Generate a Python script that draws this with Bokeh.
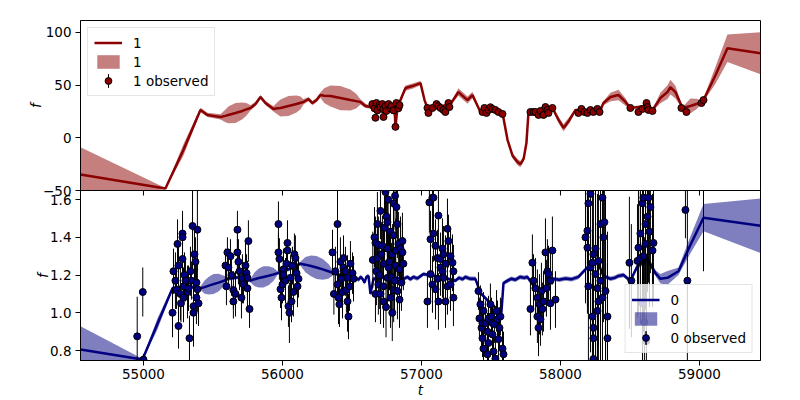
import numpy as np
from bokeh.plotting import figure
from bokeh.models import Range1d, FixedTicker, Legend, LegendItem, PrintfTickFormatter
from bokeh.layouts import column
from bokeh.embed import file_html
from bokeh.resources import INLINE

# ------------------------------------------------------------------ data
T_START, T_END = 54547, 59439
Y1_START, Y1_END = -50, 111.3
Y0_START, Y0_END = 0.747, 1.648
X_TICKS = [55000, 56000, 57000, 58000, 59000]
Y1_TICKS = [-50, 0, 50, 100]
Y0_TICKS = [0.8, 1.0, 1.2, 1.4, 1.6]

# band "1" model: (t, mean, sd)
model1 = [
    (54547, -34.9, 26), (55158, -48.1, 0.5), (55288, -11.3, 5.5), (55410, 26.4, 2),
    (55460, 21.7, 2), (55554, 19.8, 2.5), (55590, 20.8, 6), (55611, 21.7, 8),
    (55662, 23.6, 9.5), (55712, 25.5, 8), (55740, 27.0, 6), (55770, 28.3, 2.5),
    (55806, 32.1, 2), (55842, 38.7, 2), (55878, 33.0, 2), (55935, 27.4, 2.5),
    (55965, 28.0, 6), (55986, 28.3, 8), (56043, 30.2, 9.5), (56101, 32.1, 8),
    (56130, 33.2, 6), (56151, 34.0, 2.5), (56187, 36.8, 2), (56216, 33.0, 2),
    (56245, 35.8, 2), (56273, 40.6, 2.5), (56300, 40.0, 7), (56345, 39.6, 10),
    (56417, 37.7, 11.5), (56489, 35.8, 10), (56530, 34.8, 7), (56561, 34.0, 2.5),
    (56597, 30.2, 2), (56633, 29.2, 1.5), (56647, 28.3, 1), (56700, 30.0, 1),
    (56760, 29.0, 1), (56806, 28.3, 1), (56813, 10.4, 1), (56827, 28.3, 1),
    (56849, 35.8, 2), (56885, 47.2, 2.5), (56935, 49.1, 2.5), (56993, 51.9, 2),
    (57022, 35.8, 1.5), (57043, 28.3, 1), (57122, 29.2, 1), (57209, 32.1, 1),
    (57266, 43.4, 3.5), (57331, 35.8, 3.5), (57367, 40.6, 3), (57424, 24.5, 1),
    (57496, 26.4, 1), (57583, 23.6, 1), (57619, -1.9, 2), (57655, -17.0, 2.5),
    (57691, -23.0, 3), (57712, -25.0, 3), (57735, -20.0, 2.5), (57755, -5.0, 2),
    (57770, 24.5, 1), (57856, 25.5, 1), (57950, 26.4, 1), (57986, 17.0, 3),
    (58022, 9.4, 3.5), (58065, 17.0, 3), (58108, 26.4, 1), (58216, 26.4, 1),
    (58288, 26.4, 1), (58309, 33.0, 2), (58360, 38.7, 4), (58417, 40.6, 5),
    (58468, 34.0, 3.5), (58503, 28.3, 1), (58612, 30.2, 1), (58662, 26.4, 1),
    (58719, 37.7, 5), (58770, 43.4, 6.5), (58791, 48.1, 7), (58827, 43.4, 6),
    (58878, 28.3, 1), (58935, 30.2, 7), (58978, 32.1, 5), (59022, 34.0, 1),
    (59115, 59.4, 8), (59201, 84.9, 13), (59439, 80.2, 20),
]

# band "1" observations: (t, f, err)
obs1 = [
    (56647, 32, 1), (56662, 28, 1), (56669, 19, 1.5), (56676, 33, 1), (56683, 26, 1),
    (56698, 31, 1), (56705, 29, 1), (56719, 32, 1), (56727, 27, 1), (56727, 19.8, 1.5),
    (56741, 30, 1), (56748, 25.5, 1), (56763, 32, 1), (56777, 28, 1), (56784, 30, 1),
    (56799, 26, 1), (56813, 10.4, 2), (56820, 33, 1), (56834, 28, 1), (56842, 31, 1),
    (57043, 28.3, 1), (57050, 23.6, 1), (57079, 28.3, 1), (57108, 32, 1), (57122, 30, 1),
    (57137, 28.3, 1), (57158, 26.4, 1), (57172, 24.5, 1), (57194, 33, 1), (57201, 29.2, 1),
    (57439, 24.5, 1), (57453, 28.3, 1), (57468, 23.6, 1), (57482, 26.4, 1), (57496, 29, 1),
    (57511, 27.4, 1), (57532, 26.4, 1), (57554, 24.5, 1), (57583, 22.6, 1),
    (57784, 24.5, 1), (57806, 24.5, 1), (57820, 24.5, 1), (57842, 21.7, 1), (57856, 25.5, 1),
    (57878, 21.7, 1), (57892, 29.2, 1), (57906, 26.4, 1), (57914, 23.6, 1), (57942, 28.3, 1),
    (58129, 23.6, 1), (58151, 27.4, 1), (58173, 24.5, 1), (58194, 23.6, 1), (58216, 26.4, 1),
    (58237, 24.5, 1), (58266, 27.4, 1), (58281, 24.5, 1),
    (58503, 28.3, 1), (58561, 24.5, 1), (58590, 27.4, 1), (58619, 33, 1), (58626, 29.2, 1),
    (58633, 26.4, 1), (58662, 25.5, 1),
    (58870, 28.3, 1), (58906, 24.5, 1), (59014, 33, 1), (59029, 35.8, 1),
]

# band "0" model: (t, mean, sd)
model0 = [
    (54547, 0.805, 0.123), (54993, 0.752, 0.004), (55100, 0.94, 0.03), (55209, 1.13, 0.01),
    (55309, 1.14, 0.01), (55410, 1.13, 0.01), (55440, 1.136, 0.035), (55470, 1.144, 0.047),
    (55504, 1.152, 0.053), (55540, 1.16, 0.047), (55575, 1.168, 0.03), (55604, 1.18, 0.01),
    (55698, 1.19, 0.01), (55770, 1.17, 0.01), (55800, 1.178, 0.037), (55830, 1.184, 0.05),
    (55863, 1.19, 0.056), (55900, 1.196, 0.05), (55935, 1.203, 0.035), (55964, 1.21, 0.01),
    (56043, 1.23, 0.01), (56129, 1.26, 0.01), (56165, 1.255, 0.04), (56205, 1.248, 0.055),
    (56245, 1.24, 0.061), (56290, 1.23, 0.055), (56330, 1.22, 0.04), (56367, 1.21, 0.01),
    (56453, 1.19, 0.01), (56511, 1.17, 0.01), (56530, 1.185, 0.01), (56547, 1.175, 0.012),
    (56562, 1.19, 0.012), (56576, 1.18, 0.012), (56590, 1.16, 0.012), (56604, 1.19, 0.012),
    (56619, 1.195, 0.012), (56633, 1.10, 0.012), (56655, 1.18, 0.01), (56763, 1.19, 0.008),
    (56871, 1.18, 0.01), (56900, 1.19, 0.012), (56920, 1.178, 0.012), (56942, 1.19, 0.012),
    (56970, 1.182, 0.012), (57014, 1.205, 0.01), (57137, 1.19, 0.008), (57244, 1.17, 0.01),
    (57270, 1.185, 0.012), (57295, 1.178, 0.012), (57316, 1.19, 0.012), (57350, 1.18, 0.012),
    (57388, 1.18, 0.012), (57424, 1.105, 0.01), (57496, 1.05, 0.01), (57575, 1.00, 0.01),
    (57590, 1.157, 0.01), (57619, 1.17, 0.012), (57645, 1.18, 0.012), (57676, 1.175, 0.012),
    (57710, 1.19, 0.012), (57740, 1.185, 0.012), (57762, 1.19, 0.012), (57798, 1.152, 0.01),
    (57856, 1.115, 0.01), (57906, 1.14, 0.01), (57950, 1.18, 0.01), (57990, 1.175, 0.012),
    (58036, 1.182, 0.012), (58080, 1.178, 0.012), (58129, 1.19, 0.012), (58180, 1.23, 0.01),
    (58230, 1.264, 0.01), (58273, 1.26, 0.01), (58309, 1.195, 0.01), (58360, 1.18, 0.012),
    (58390, 1.185, 0.012), (58417, 1.195, 0.012), (58453, 1.20, 0.012), (58503, 1.17, 0.01),
    (58554, 1.248, 0.015), (58626, 1.285, 0.02), (58683, 1.21, 0.015), (58719, 1.18, 0.025),
    (58770, 1.185, 0.037), (58849, 1.22, 0.02), (58935, 1.36, 0.045), (59029, 1.504, 0.072),
    (59439, 1.461, 0.144),
]

# band "0" observations: (t, f, err)
obs0 = [
    (54955, 0.875, 0.21), (54995, 1.11, 0.13), (55000, 0.752, 0.03),
    (55209, 1.00, 0.13), (55216, 1.22, 0.12), (55230, 1.17, 0.15), (55238, 1.12, 0.10),
    (55245, 1.365, 0.13), (55252, 1.25, 0.11), (55252, 0.93, 0.12), (55266, 1.10, 0.14),
    (55270, 1.05, 0.10), (55281, 1.42, 0.12), (55281, 1.40, 0.10), (55281, 1.285, 0.11),
    (55288, 1.08, 0.13), (55288, 1.14, 0.10), (55295, 1.20, 0.12), (55302, 1.17, 0.11),
    (55317, 1.11, 0.14), (55324, 1.13, 0.12), (55331, 0.865, 0.12), (55338, 1.22, 0.13),
    (55345, 1.17, 0.10), (55353, 1.46, 0.25), (55360, 1.035, 0.15), (55360, 1.00, 0.18),
    (55367, 1.31, 0.15), (55374, 1.27, 0.13), (55381, 1.16, 0.11), (55381, 1.08, 0.14),
    (55388, 1.44, 0.22), (55388, 1.125, 0.12), (55396, 1.05, 0.12),
    (55590, 1.25, 0.09), (55597, 1.14, 0.10), (55604, 1.32, 0.08), (55611, 1.24, 0.10),
    (55626, 1.30, 0.09), (55633, 1.20, 0.11), (55647, 1.12, 0.10), (55647, 1.06, 0.09),
    (55662, 1.10, 0.12), (55676, 1.44, 0.10), (55676, 1.32, 0.09), (55683, 1.27, 0.12),
    (55691, 1.22, 0.10), (55705, 1.08, 0.11), (55712, 1.18, 0.13), (55720, 1.15, 0.10),
    (55734, 1.25, 0.12), (55741, 1.21, 0.10), (55748, 1.185, 0.09), (55748, 1.13, 0.12),
    (55755, 1.38, 0.11), (55763, 1.02, 0.10),
    (55971, 1.47, 0.12), (55971, 1.32, 0.10), (55978, 1.285, 0.11), (55986, 1.125, 0.10),
    (55993, 1.08, 0.12), (56000, 1.15, 0.10), (56007, 1.23, 0.11), (56007, 1.20, 0.09),
    (56022, 1.17, 0.12), (56029, 1.26, 0.10), (56036, 1.37, 0.12), (56036, 1.33, 0.10),
    (56043, 1.035, 0.11), (56050, 1.00, 0.16), (56058, 1.185, 0.12), (56065, 1.06, 0.11),
    (56072, 1.25, 0.10), (56079, 1.11, 0.13), (56086, 1.31, 0.11), (56093, 1.29, 0.12),
    (56101, 1.21, 0.10), (56108, 1.14, 0.11), (56115, 1.18, 0.10),
    (56360, 1.32, 0.12), (56370, 1.10, 0.11), (56381, 1.22, 0.13), (56396, 1.47, 0.20),
    (56396, 1.15, 0.12), (56403, 1.08, 0.14), (56410, 1.045, 0.12), (56417, 1.27, 0.13),
    (56424, 1.18, 0.12), (56432, 1.11, 0.14), (56439, 1.29, 0.12), (56439, 1.24, 0.11),
    (56453, 1.22, 0.13), (56460, 1.12, 0.12), (56468, 1.06, 0.16), (56468, 1.185, 0.12),
    (56475, 0.98, 0.12), (56482, 1.14, 0.13), (56489, 1.26, 0.12), (56504, 1.21, 0.11),
    (56511, 1.18, 0.12),
    (56650, 1.28, 0.15), (56662, 1.40, 0.16), (56669, 1.37, 0.14), (56669, 1.10, 0.15),
    (56676, 1.22, 0.18), (56683, 1.29, 0.15), (56683, 1.47, 0.17), (56690, 1.15, 0.16),
    (56690, 1.36, 0.15), (56697, 1.20, 0.18), (56705, 1.10, 0.16), (56705, 1.54, 0.15),
    (56712, 1.31, 0.17), (56719, 1.355, 0.16), (56727, 1.06, 0.14), (56727, 1.26, 0.18),
    (56727, 1.14, 0.15), (56734, 1.45, 0.17), (56741, 1.64, 0.18), (56745, 1.03, 0.16),
    (56748, 1.51, 0.17), (56755, 1.48, 0.18), (56755, 1.185, 0.15), (56755, 1.34, 0.16),
    (56760, 1.60, 0.17), (56763, 1.24, 0.18), (56770, 1.27, 0.15), (56777, 1.43, 0.17),
    (56777, 1.08, 0.16), (56784, 1.19, 0.18), (56790, 1.00, 0.15), (56791, 1.31, 0.16),
    (56799, 1.58, 0.18), (56799, 1.41, 0.15), (56800, 1.12, 0.17), (56806, 1.17, 0.16),
    (56810, 1.62, 0.18), (56813, 1.25, 0.15), (56815, 1.33, 0.17), (56820, 1.56, 0.16),
    (56827, 1.47, 0.18), (56827, 1.115, 0.15), (56834, 1.365, 0.17), (56842, 1.07, 0.15),
    (56842, 1.23, 0.16), (56849, 1.34, 0.17), (56856, 1.16, 0.15), (56863, 1.32, 0.16),
    (56863, 1.38, 0.15), (56870, 1.26, 0.14),
    (57043, 1.06, 0.14), (57057, 1.585, 0.16), (57065, 1.39, 0.15), (57065, 1.205, 0.14),
    (57079, 1.61, 0.17), (57079, 1.15, 0.15), (57086, 1.61, 0.16), (57086, 1.42, 0.15),
    (57101, 1.355, 0.14), (57101, 1.125, 0.16), (57115, 1.29, 0.15), (57115, 1.18, 0.14),
    (57122, 1.515, 0.16), (57122, 1.06, 0.15), (57137, 1.285, 0.14), (57137, 1.24, 0.15),
    (57151, 1.34, 0.16), (57151, 1.22, 0.14), (57158, 1.31, 0.15), (57158, 1.185, 0.14),
    (57173, 1.26, 0.15), (57173, 1.06, 0.14), (57187, 1.445, 0.16), (57187, 1.14, 0.15),
    (57194, 1.38, 0.14), (57209, 1.30, 0.15), (57209, 1.15, 0.14), (57223, 1.265, 0.15),
    (57230, 1.22, 0.14), (57230, 1.08, 0.15),
    (57410, 1.115, 0.10), (57417, 0.97, 0.11), (57424, 1.045, 0.10), (57432, 0.92, 0.12),
    (57439, 0.865, 0.10), (57439, 0.945, 0.11), (57446, 1.01, 0.10), (57446, 0.81, 0.11),
    (57460, 0.945, 0.12), (57475, 0.90, 0.10), (57475, 0.78, 0.11), (57482, 0.84, 0.10),
    (57482, 0.97, 0.12), (57496, 1.045, 0.11), (57504, 0.98, 0.10), (57511, 0.885, 0.12),
    (57511, 0.945, 0.10), (57518, 0.795, 0.11), (57525, 0.94, 0.10), (57532, 0.757, 0.12),
    (57540, 1.01, 0.11), (57547, 0.965, 0.10), (57554, 0.86, 0.12), (57561, 0.92, 0.11),
    (57568, 0.98, 0.10), (57583, 0.81, 0.11), (57590, 0.78, 0.12),
    (57784, 1.02, 0.14), (57798, 1.265, 0.15), (57806, 1.17, 0.14), (57820, 1.13, 0.16),
    (57834, 1.08, 0.15), (57834, 0.98, 0.14), (57842, 0.92, 0.15), (57849, 1.045, 0.16),
    (57856, 0.965, 0.14), (57863, 1.115, 0.15), (57870, 1.02, 0.14), (57878, 1.06, 0.16),
    (57892, 1.32, 0.18), (57899, 1.13, 0.15), (57906, 1.22, 0.17), (57914, 1.205, 0.15),
    (57928, 1.17, 0.16), (57928, 1.05, 0.14), (57942, 1.33, 0.18), (57964, 1.07, 0.15),
    (58180, 1.40, 0.35), (58194, 1.435, 0.40), (58194, 1.345, 0.35), (58201, 1.58, 0.45),
    (58201, 1.14, 0.40), (58216, 1.63, 0.50), (58216, 1.24, 0.45), (58230, 1.265, 0.40),
    (58230, 0.98, 0.45), (58237, 1.31, 0.50), (58237, 0.92, 0.40), (58237, 0.865, 0.45),
    (58237, 0.755, 0.50), (58252, 1.205, 0.45), (58252, 1.34, 0.40), (58266, 1.13, 0.50),
    (58266, 1.01, 0.45), (58273, 1.06, 0.40), (58273, 1.275, 0.45), (58288, 1.47, 0.50),
    (58288, 1.17, 0.45), (58302, 1.61, 0.40), (58302, 1.08, 0.50), (58309, 1.40, 0.45),
    (58316, 1.48, 0.40), (58324, 1.115, 0.50), (58338, 0.98, 0.45), (58338, 0.865, 0.40),
    (58496, 1.265, 0.35), (58510, 1.17, 0.30),
    (58554, 1.275, 0.30), (58561, 1.345, 0.35), (58575, 1.42, 0.40), (58575, 1.29, 0.35),
    (58590, 1.58, 0.45), (58590, 1.05, 0.40), (58597, 1.61, 0.50), (58597, 1.30, 0.40),
    (58604, 0.95, 0.45), (58612, 1.47, 0.40), (58612, 1.365, 0.35), (58618, 0.85, 0.45),
    (58626, 1.51, 0.40), (58633, 1.61, 0.45), (58640, 1.43, 0.40), (58647, 1.56, 0.35),
    (58662, 1.33, 0.30), (58669, 1.37, 0.30),
    (58899, 1.545, 0.15), (58913, 1.17, 0.50), (59029, 1.80, 0.58),
]

m1_t, m1_mean, m1_sd = (np.array(c, dtype=float) for c in zip(*model1))
o1_t, o1_f, o1_e = (np.array(c, dtype=float) for c in zip(*obs1))
m0_t, m0_mean, m0_sd = (np.array(c, dtype=float) for c in zip(*model0))
o0_t, o0_f, o0_e = (np.array(c, dtype=float) for c in zip(*obs0))

# ------------------------------------------------------------------ style
FONT = "DejaVu Sans"
FS = "13.5px"
RED = "#8b0000"
NAVY = "#000080"
FRAME_H = 170

x_rng = Range1d(T_START, T_END)


def style_common(p):
    p.grid.visible = False
    p.outline_line_color = "black"
    p.outline_line_alpha = 1.0
    p.outline_line_width = 1


def style_axis(ax):
    ax.major_tick_out = 5
    ax.major_tick_in = 0
    ax.minor_tick_out = 0
    ax.minor_tick_in = 0
    ax.major_tick_line_color = "black"
    ax.axis_line_color = "black"
    ax.major_label_text_font = FONT
    ax.major_label_text_font_size = FS
    ax.major_label_text_color = "black"
    ax.axis_label_text_font = FONT
    ax.axis_label_text_font_size = FS
    ax.axis_label_text_font_style = "italic"
    ax.axis_label_text_color = "black"


def panel(p, mt, mm, ms, ot, of, oe, color, name, loc):
    band = p.varea(x=mt, y1=mm - ms, y2=mm + ms, fill_color=color, fill_alpha=0.5)
    line = p.line(x=mt, y=mm, line_color=color, line_width=2.5)
    p.segment(x0=ot, y0=of - oe, x1=ot, y1=of + oe, line_color="black", line_width=1)
    pts = p.scatter(x=ot, y=of, size=7, fill_color=color, line_color="black", line_width=1)
    # off-range helper whose legend glyph is a thin vertical bar (error bar symbol)
    bar = p.ellipse(x=[T_START - 5000], y=[0], width=0.5, height=60,
                    width_units="screen", height_units="screen",
                    fill_alpha=0, line_color="black", line_width=1)
    legend = Legend(items=[
        LegendItem(label=name, renderers=[line]),
        LegendItem(label=name, renderers=[band]),
        LegendItem(label=name + " observed", renderers=[bar, pts]),
    ], location=loc)
    legend.margin = 7
    legend.padding = 6
    legend.spacing = 2
    legend.glyph_width = 28
    legend.glyph_height = 17
    legend.label_height = 17
    legend.label_standoff = 11
    legend.label_text_font = FONT
    legend.label_text_font_size = FS
    legend.label_text_color = "black"
    legend.border_line_color = "#cccccc"
    legend.border_line_width = 1
    legend.background_fill_color = "white"
    legend.background_fill_alpha = 0.8
    p.add_layout(legend)


# ------------------------------------------------------------------ top panel (band 1)
p1 = figure(width=800, height=200, x_range=x_rng, y_range=Range1d(Y1_START, Y1_END),
            x_axis_location=None, min_border_left=80, min_border_right=40,
            min_border_top=20, min_border_bottom=10,
            output_backend="svg", toolbar_location=None)
style_common(p1)
p1.yaxis.ticker = FixedTicker(ticks=Y1_TICKS)
p1.yaxis.major_label_overrides = {-50: "\u221250"}
p1.yaxis.axis_label = "f"
for ax in p1.yaxis:
    style_axis(ax)
    ax.major_label_standoff = 4
    ax.axis_label_standoff = -4
panel(p1, m1_t, m1_mean, m1_sd, o1_t, o1_f, o1_e, RED, "1", "top_left")

# ------------------------------------------------------------------ bottom panel (band 0)
# overlaps the upper figure's bottom border so that its "−50" label stays whole
p2 = figure(width=800, height=220, x_range=x_rng, y_range=Range1d(Y0_START, Y0_END),
            min_border_left=80, min_border_right=40, min_border_top=10, min_border_bottom=40,
            output_backend="svg", toolbar_location=None)
style_common(p2)
p2.border_fill_alpha = 0
p2.background_fill_alpha = 0
p2.styles = {"margin-top": "-20px"}
p2.yaxis.ticker = FixedTicker(ticks=Y0_TICKS)
p2.yaxis.formatter = PrintfTickFormatter(format="%.1f")
p2.yaxis.axis_label = "f"
for ax in p2.yaxis:
    style_axis(ax)
    ax.major_label_standoff = 4
    ax.axis_label_standoff = -4
p2.xaxis.ticker = FixedTicker(ticks=X_TICKS)
p2.xaxis.axis_label = "t"
for ax in p2.xaxis:
    style_axis(ax)
    ax.major_label_standoff = 3
    ax.axis_label_standoff = 0

panel(p2, m0_t, m0_mean, m0_sd, o0_t, o0_f, o0_e, NAVY, "0", "bottom_right")

# the upper panel's shared-x tick marks, which point down into the lower panel
tick_len = 5 * (Y0_END - Y0_START) / FRAME_H
p2.segment(x0=X_TICKS, y0=[Y0_END] * len(X_TICKS), x1=X_TICKS,
           y1=[Y0_END - tick_len] * len(X_TICKS), line_color="black", line_width=1)

layout = column(p1, p2)
open("out.html", "w").write(file_html(layout, INLINE))
